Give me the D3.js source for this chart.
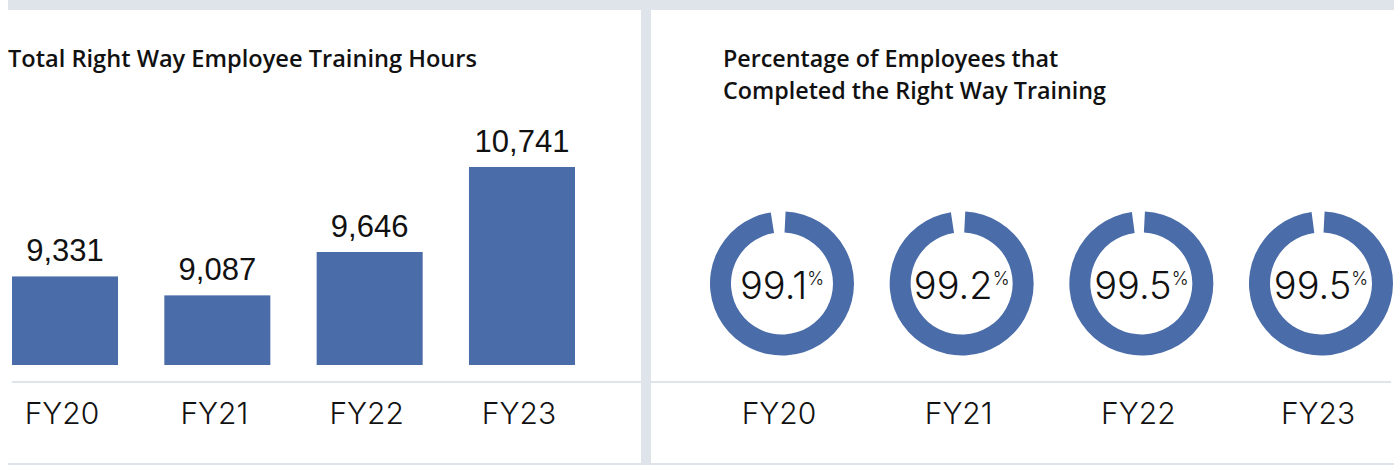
<!DOCTYPE html>
<html>
<head>
<meta charset="utf-8">
<script src="https://cdn.jsdelivr.net/npm/d3@7"></script>
<style>
  body { margin: 0; background: #fff; }
  svg { display: block; }
  .title { font-family: "Open Sans", "Noto Sans", sans-serif; font-weight: 600; fill: #111; }
  .value { font-family: "Liberation Sans", Arial, sans-serif; fill: #111; }
  .light { font-family: Inter, Roboto, sans-serif; font-weight: 300; fill: #111; }
</style>
</head>
<body>
<svg id="chart" width="1394" height="465"></svg>
<script>
const years = ["FY20", "FY21", "FY22", "FY23"];
const trainingHours = [9331, 9087, 9646, 10741];
const completionPct = [99.1, 99.2, 99.5, 99.5];

const BLUE = "#4a6ca9";
const GRAY = "#dfe3ea";

const svg = d3.select("#chart");

// frame: top band, divider, baselines
svg.append("rect").attr("x", 8).attr("y", 0).attr("width", 1386).attr("height", 10).attr("fill", GRAY);
svg.append("rect").attr("x", 641).attr("y", 10).attr("width", 10).attr("height", 455).attr("fill", GRAY);
svg.append("rect").attr("x", 8).attr("y", 463).attr("width", 1386).attr("height", 2).attr("fill", GRAY);
svg.append("rect").attr("x", 12).attr("y", 381).attr("width", 629).attr("height", 2).attr("fill", GRAY);
svg.append("rect").attr("x", 651).attr("y", 381).attr("width", 740).attr("height", 2).attr("fill", GRAY);

// left panel: bar chart
svg.append("text")
  .attr("class", "title")
  .attr("x", 8)
  .attr("y", 67)
  .attr("font-size", 23.6)
  .text("Total Right Way Employee Training Hours");

const x = d3.scaleBand().domain(years).range([12, 575]).paddingInner(0.304).paddingOuter(0);
const y = d3.scaleLinear().domain([8190, 10741]).range([365, 167]);

const bars = svg.append("g");
bars.selectAll("rect")
  .data(trainingHours)
  .join("rect")
  .attr("x", (d, i) => x(years[i]))
  .attr("y", (d) => y(d))
  .attr("width", x.bandwidth())
  .attr("height", (d) => y.range()[0] - y(d))
  .attr("fill", BLUE);

bars.selectAll("text.value")
  .data(trainingHours)
  .join("text")
  .attr("class", "value")
  .attr("x", (d, i) => x(years[i]) + x.bandwidth() / 2)
  .attr("y", (d) => y(d) - 15)
  .attr("text-anchor", "middle")
  .attr("font-size", 31)
  .text((d) => d3.format(",")(d));

bars.selectAll("text.cat")
  .data(years)
  .join("text")
  .attr("class", "cat light")
  .attr("x", (d) => x(d) + x.bandwidth() / 2 - 3)
  .attr("y", 424)
  .attr("text-anchor", "middle")
  .attr("font-size", 30)
  .text((d) => d);

// right panel: donuts
const titleR = svg.append("text")
  .attr("class", "title")
  .attr("x", 723)
  .attr("font-size", 23.3);
titleR.append("tspan").attr("x", 723).attr("y", 67).text("Percentage of Employees that");
titleR.append("tspan").attr("x", 723).attr("y", 99).text("Completed the Right Way Training");

const cx = d3.scalePoint().domain(years).range([782, 1321]);
const cy = 283.5;
const arc = d3.arc().innerRadius(51).outerRadius(72);

const donuts = svg.append("g")
  .selectAll("g")
  .data(completionPct)
  .join("g")
  .attr("transform", (d, i) => `translate(${cx(years[i])},${cy})`);

donuts.append("path")
  .attr("fill", BLUE)
  .attr("d", (d) => arc({ startAngle: 0.05, endAngle: 2 * Math.PI * d / 100 - 0.1 }));

const label = donuts.append("text")
  .attr("class", "light")
  .attr("text-anchor", "middle")
  .attr("y", 15)
  .attr("font-size", 38);
label.append("tspan").text((d) => d.toFixed(1));
label.append("tspan").attr("font-size", 18).attr("dy", -14).text("%");

svg.append("g")
  .selectAll("text")
  .data(years)
  .join("text")
  .attr("class", "light")
  .attr("x", (d) => cx(d) - 3)
  .attr("y", 424)
  .attr("text-anchor", "middle")
  .attr("font-size", 30)
  .text((d) => d);
</script>
</body>
</html>
